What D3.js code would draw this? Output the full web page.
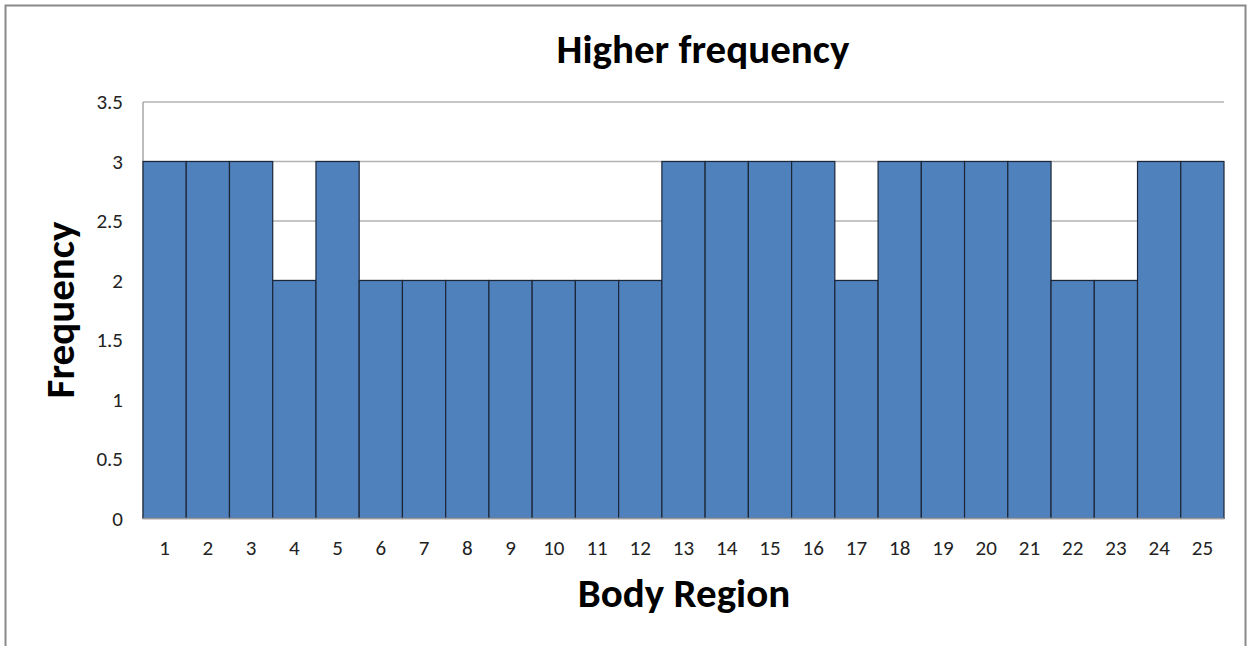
<!DOCTYPE html>
<html><head><meta charset="utf-8">
<script src="https://cdn.jsdelivr.net/npm/d3@7"></script>
<style>body{margin:0;background:#fff;}svg{display:block;}</style>
</head><body>
<script>
const regions = d3.range(1, 26).map(String);
const frequency = [3,3,3,2,3,2,2,2,2,2,2,2,3,3,3,3,2,3,3,3,3,2,2,3,3];
const yTicks = [0,0.5,1,1.5,2,2.5,3,3.5];
const titleText = "Higher frequency";
const xTitle = "Body Region";
const yTitle = "Frequency";

const W = 1249, H = 646;
const m = {left:143, right:1224, top:102, bottom:518.5};
const font = "Carlito, Lato, 'Open Sans', sans-serif";

const svg = d3.select("body").append("svg").attr("width", W).attr("height", H);
svg.append("rect").attr("x",5.5).attr("y",5.5).attr("width",1240).attr("height",660)
  .attr("fill","#fff").attr("stroke","#898989").attr("stroke-width",2);

const x = d3.scaleBand().domain(regions).range([m.left, m.right]).padding(0);
const y = d3.scaleLinear().domain([0,3.5]).range([m.bottom, m.top]);

// gridlines
svg.append("g").selectAll("line").data(yTicks.filter(d=>d>0)).join("line")
  .attr("x1", m.left).attr("x2", m.right)
  .attr("y1", d=>y(d)).attr("y2", d=>y(d))
  .attr("stroke","#b3b3b3").attr("stroke-width",1.3);

// left axis line
svg.append("line").attr("x1",m.left).attr("x2",m.left).attr("y1",m.top).attr("y2",m.bottom)
  .attr("stroke","#9a9a9a").attr("stroke-width",1.3);

// bars
svg.append("g").selectAll("rect").data(frequency).join("rect")
  .attr("x",(d,i)=>x(regions[i]))
  .attr("y",d=>y(d))
  .attr("width",x.bandwidth())
  .attr("height",d=>y(0)-y(d))
  .attr("fill","#4f81bd").attr("stroke","#1c2636").attr("stroke-width",1.2);

// bottom axis line
svg.append("line").attr("x1",m.left).attr("x2",m.right).attr("y1",m.bottom).attr("y2",m.bottom)
  .attr("stroke","#9a9a9a").attr("stroke-width",1.3);

// y axis labels
const yAxis = d3.axisLeft(y).tickValues(yTicks).tickSize(0).tickPadding(20).tickFormat(d3.format("~g"));
const gy = svg.append("g").attr("transform",`translate(${m.left},0)`).call(yAxis);
gy.select(".domain").remove();
gy.selectAll("text").attr("font-family",font).attr("font-size",21).attr("fill","#222");

// x axis labels
const xAxis = d3.axisBottom(x).tickSize(0).tickPadding(22);
const gx = svg.append("g").attr("transform",`translate(0,${m.bottom})`).call(xAxis);
gx.select(".domain").remove();
gx.selectAll("text").attr("font-family",font).attr("font-size",21).attr("fill","#222");

// titles
svg.append("text").attr("x",703).attr("y",63).attr("text-anchor","middle")
  .attr("font-family",font).attr("font-weight","bold").attr("font-size",41).attr("fill","#000").text(titleText);
svg.append("text").attr("x",684).attr("y",607).attr("text-anchor","middle")
  .attr("font-family",font).attr("font-weight","bold").attr("font-size",41).attr("fill","#000").text(xTitle);
svg.append("text").attr("transform","translate(74,310) rotate(-90)").attr("text-anchor","middle")
  .attr("font-family",font).attr("font-weight","bold").attr("font-size",41).attr("fill","#000").text(yTitle);
</script>
</body></html>
